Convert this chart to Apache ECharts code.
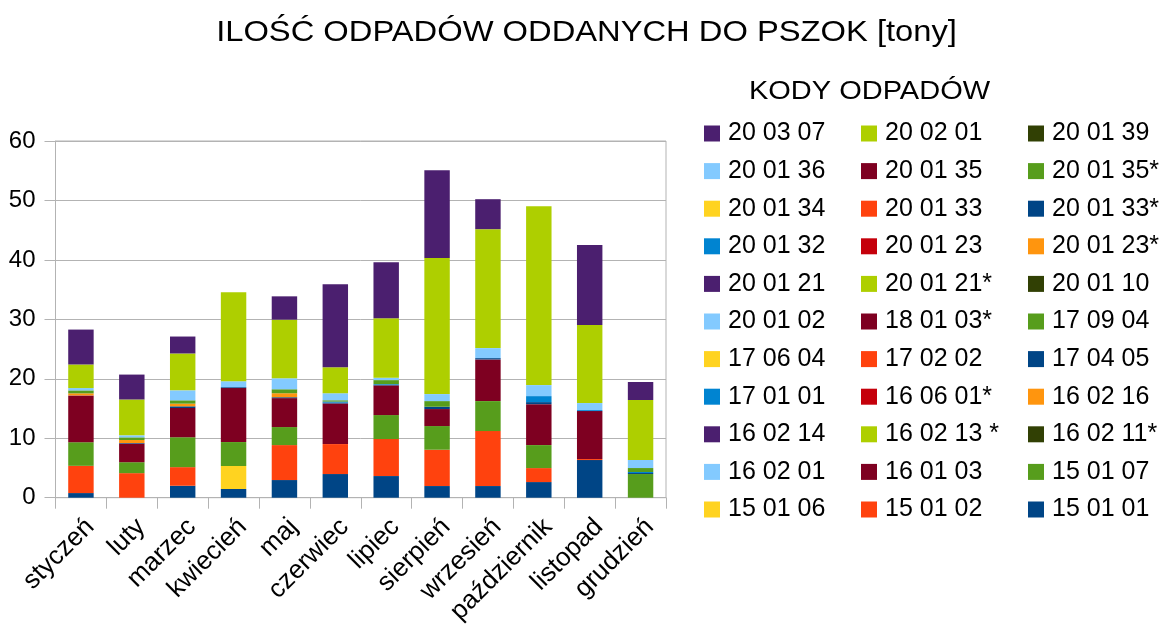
<!DOCTYPE html>
<html>
<head>
<meta charset="utf-8">
<script src="https://cdn.jsdelivr.net/npm/echarts@6/dist/echarts.min.js"></script>
<style>
html,body{margin:0;padding:0;background:#fff;}
#c{width:1160px;height:625px;}
</style>
</head>
<body>
<div id="c"></div>
<script>
const months = ['styczeń','luty','marzec','kwiecień','maj','czerwiec','lipiec','sierpień','wrzesień','październik','listopad','grudzień'];
// series order, bottom of stack to top
const codes = ['15 01 01','15 01 02','15 01 06','15 01 07','16 01 03','16 02 01','16 02 11*','16 02 13 *','16 02 14','16 02 16','16 06 01*','17 01 01','17 04 05','17 02 02','17 06 04','17 09 04','18 01 03*','20 01 02','20 01 10','20 01 21*','20 01 21','20 01 23*','20 01 23','20 01 32','20 01 33*','20 01 33','20 01 34','20 01 35*','20 01 35','20 01 36','20 01 39','20 02 01','20 03 07'];
const yTicks = {min: 0, max: 60, interval: 10};
const titleText = 'ILOŚĆ ODPADÓW ODDANYCH DO PSZOK [tony]';
const legendTitle = 'KODY ODPADÓW';

const v150101 = [0.78, 0, 2.01, 1.46, 2.97, 3.98, 3.64, 1.96, 1.96, 2.63, 6.33, 0];
const v150102 = [4.58, 4.13, 3.13, 0, 5.88, 5.04, 6.22, 6.11, 9.25, 2.35, 0.17, 0];
const v150106 = [0, 0, 0, 3.87, 0, 0, 0, 0, 0, 0, 0, 0];
const v150107 = [3.97, 1.84, 5.03, 4.03, 3.03, 0, 4.04, 3.98, 5.04, 3.87, 0, 3.98];
const v160103 = [7.88, 3.13, 4.92, 9.08, 4.87, 6.83, 4.99, 2.86, 7.01, 6.89, 8.07, 0];
const v170405 = [0, 0.1, 0.28, 0.15, 0.15, 0.15, 0.1, 0.39, 0.22, 0.34, 0, 0.17];
const v200123g = [0.34, 0.5, 0.45, 0, 0.67, 0, 0, 0, 0, 0, 0, 0];
const v200132 = [0, 0, 0, 0, 0, 0.17, 0.12, 0, 0, 1.01, 0.17, 0.17];
const v200135g = [0.5, 0.45, 0.56, 0, 0.67, 0.22, 0.67, 0.95, 0, 0, 0, 0.67];
const v200136 = [0.39, 0.34, 1.68, 1.0, 1.85, 1.18, 0.39, 1.18, 1.68, 1.85, 1.18, 1.35];
const v200201 = [3.97, 6.03, 6.2, 14.96, 9.86, 4.37, 10.03, 22.87, 20.01, 30.1, 13.12, 10.09];
const v200307 = [5.87, 4.19, 2.85, 0, 3.92, 13.95, 9.42, 14.8, 5.04, 0, 13.45, 3.03];
const none = [0, 0, 0, 0, 0, 0, 0, 0, 0, 0, 0, 0];

const seriesValues = [
  v150101, v150102, v150106, v150107, v160103, none, none, none, none, none, none, none,
  v170405, none, none, none, none, none, none, none, none, v200123g, none, v200132,
  none, none, none, v200135g, none, v200136, none, v200201, v200307
];

const palette = ['#004586','#ff420e','#ffd320','#579d1c','#7e0021','#83caff','#314004','#aecf00','#4b1f6f','#ff950e','#c5000b','#0084d1'];

const rev = codes.slice().reverse();
const cols = [[],[],[]];
rev.forEach((n,i)=>cols[i%3].push(n));

const FONT = '"Liberation Sans", Arial, sans-serif';
const legendBase = {
  orient: 'vertical', top: 116, itemWidth: 16, itemHeight: 16, itemGap: 12.6,
  icon: 'rect', selectedMode: false,
  textStyle: {fontFamily: FONT, fontSize: 25, lineHeight: 25, color: '#000', padding: [0,0,0,3]}
};

const chart = echarts.init(document.getElementById('c'), null, {renderer: 'canvas'});
chart.setOption({
  animation: false,
  backgroundColor: '#fff',
  color: palette,
  graphic: [
    {type: 'text', x: 586.5, y: 32.5, scaleX: 1.09,
     style: {text: titleText, font: '30px "Liberation Sans", Arial, sans-serif', fill: '#000', align: 'center', verticalAlign: 'middle'}},
    {type: 'text', x: 869.5, y: 92.3, scaleX: 1.16,
     style: {text: legendTitle, font: '25px "Liberation Sans", Arial, sans-serif', fill: '#000', align: 'center', verticalAlign: 'middle'}}
  ],
  legend: [
    Object.assign({}, legendBase, {left: 699, data: cols[0]}),
    Object.assign({}, legendBase, {left: 856, data: cols[1]}),
    Object.assign({}, legendBase, {left: 1023, data: cols[2]})
  ],
  grid: {left: 55.5, right: 494, top: 141, bottom: 127.3, show: true, borderColor: '#b3b3b3', borderWidth: 1,
         containLabel: false, outerBoundsMode: 'none'},
  xAxis: {
    type: 'category', data: months,
    axisLine: {lineStyle: {color: '#b3b3b3'}},
    axisTick: {show: true, length: 11, lineStyle: {color: '#b3b3b3'}},
    axisLabel: {rotate: 45, fontFamily: FONT, fontSize: 26, color: '#000', margin: 16, interval: 0,
                align: 'right', verticalAlign: 'top'}
  },
  yAxis: {
    type: 'value', min: yTicks.min, max: yTicks.max, interval: yTicks.interval,
    axisLine: {show: true, lineStyle: {color: '#b3b3b3'}},
    axisTick: {show: true, length: 11, lineStyle: {color: '#b3b3b3'}},
    splitLine: {lineStyle: {color: '#b3b3b3'}},
    axisLabel: {fontFamily: FONT, fontSize: 24, color: '#000', margin: 20}
  },
  series: codes.map((name, i) => ({
    name: name, type: 'bar', stack: 'total', data: seriesValues[i],
    barCategoryGap: '50%'
  }))
});
</script>
</body>
</html>
